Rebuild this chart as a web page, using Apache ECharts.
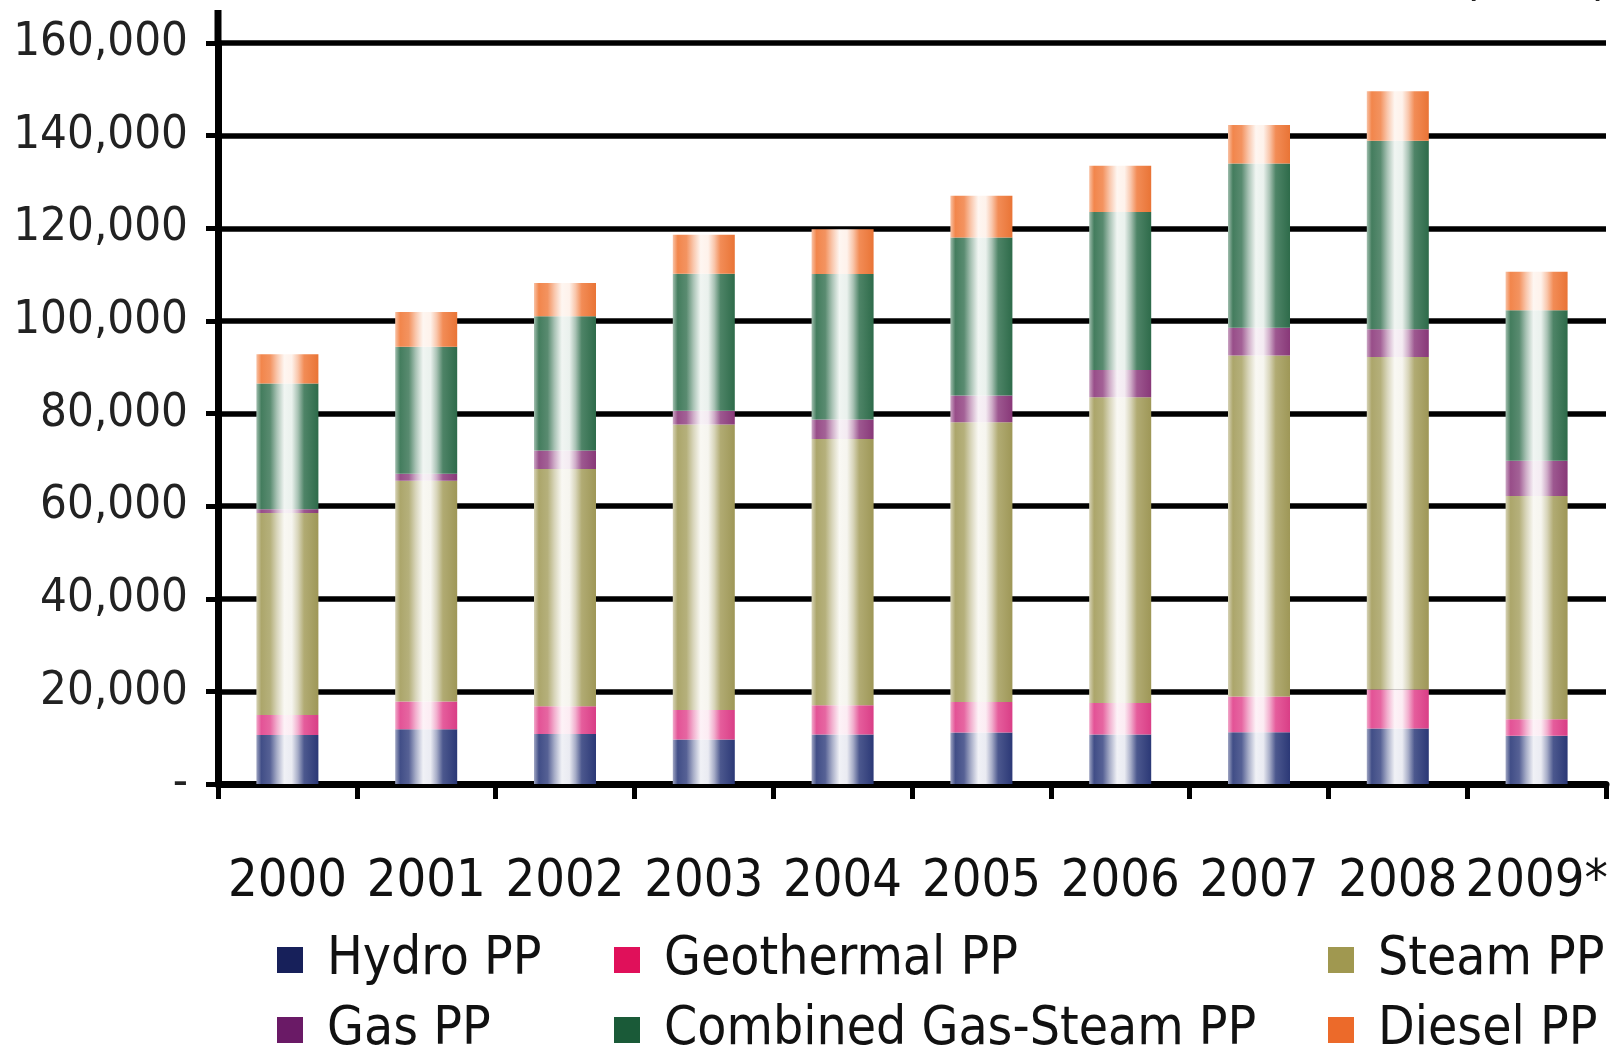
<!DOCTYPE html>
<html>
<head>
<meta charset="utf-8">
<script src="https://cdn.jsdelivr.net/npm/echarts@6/dist/echarts.min.js"></script>
<style>
  html, body { margin: 0; padding: 0; background: #ffffff; }
  #chart { width: 1614px; height: 1051px; }
</style>
</head>
<body>
<div id="chart"></div>
<script>
// Electricity production by power plant type, GWh
const years = ['2000', '2001', '2002', '2003', '2004', '2005', '2006', '2007', '2008', '2009*'];

const hydroPP      = [10600, 11800, 10800,  9600, 10700, 11100, 10700, 11200, 12000, 10400];
const geothermalPP = [ 4300,  6000,  6000,  6400,  6300,  6600,  6800,  7700,  8400,  3600];
const steamPP      = [43600, 47700, 51200, 61600, 57500, 60400, 66000, 73600, 71800, 48200];
const gasPP        = [  800,  1500,  4000,  3000,  4200,  5800,  5900,  6000,  6000,  7600];
const combinedPP   = [27200, 27400, 29000, 29600, 31400, 34100, 34100, 35500, 40700, 32500];
const dieselPP     = [ 6300,  7500,  7200,  8400,  9700,  9000, 10000,  8300, 10700,  8300];

const seriesNames = ['Hydro PP', 'Geothermal PP', 'Steam PP', 'Gas PP', 'Combined Gas-Steam PP', 'Diesel PP'];
const seriesData  = [hydroPP, geothermalPP, steamPP, gasPP, combinedPP, dieselPP];

const yMin = 0;
const yMax = 160000;
const yStep = 20000;
const unitLabel = '(GWh)';

// bar body colours and legend swatch colours
const barColors    = ['#2c3a7a', '#e0408a', '#a39c5a', '#8c3a7c', '#2f6e4c', '#f07838'];
const swatchColors = ['#17205a', '#e0105a', '#a09850', '#6a1a66', '#1a5a38', '#ec6a2a'];

const FONT = '"DejaVu Sans Condensed", "Liberation Sans Narrow", "DejaVu Sans", sans-serif';

function hexToRgb(h) {
  const n = parseInt(h.slice(1), 16);
  return [(n >> 16) & 255, (n >> 8) & 255, n & 255];
}
function mix(h, t) {
  // t > 0 mixes toward white, t < 0 toward black
  const c = hexToRgb(h).map(v => t >= 0 ? Math.round(v + (255 - v) * t) : Math.round(v * (1 + t)));
  return 'rgb(' + c.join(',') + ')';
}
// cylinder-like shading across the bar
function cylinder(base) {
  return new echarts.graphic.LinearGradient(0, 0, 1, 0, [
    { offset: 0.00, color: mix(base, 0.55) },
    { offset: 0.08, color: mix(base, 0.10) },
    { offset: 0.22, color: mix(base, 0.20) },
    { offset: 0.33, color: mix(base, 0.58) },
    { offset: 0.45, color: mix(base, 0.93) },
    { offset: 0.57, color: mix(base, 0.90) },
    { offset: 0.67, color: mix(base, 0.58) },
    { offset: 0.77, color: mix(base, 0.15) },
    { offset: 1.00, color: mix(base, -0.03) }
  ]);
}

const gridLeft = 218, gridTop = 43, gridRight = 8, gridBottom = 267;

const chart = echarts.init(document.getElementById('chart'), null, { renderer: 'canvas' });

// one legend entry per block so the two rows and three columns stay fixed
const legendCols = [272, 609, 1323];
const legendRows = [925, 995];
const legendSlots = [[0, 0], [1, 0], [2, 0], [0, 1], [1, 1], [2, 1]]; // [col, row] for each series

function legendEntry(i) {
  const [c, r] = legendSlots[i];
  return {
    left: legendCols[c],
    top: legendRows[r],
    itemWidth: 26,
    itemHeight: 26,
    icon: 'rect',
    selectedMode: false,
    textStyle: { fontFamily: FONT, fontSize: 53, color: '#111', lineHeight: 60, padding: [0, 0, 0, 19] },
    data: [{ name: seriesNames[i], itemStyle: { color: swatchColors[i] } }]
  };
}

chart.setOption({
  animation: false,
  backgroundColor: '#ffffff',
  grid: { left: gridLeft, right: gridRight, top: gridTop, bottom: gridBottom, containLabel: false },
  legend: seriesNames.map((n, i) => legendEntry(i)),
  xAxis: {
    type: 'category',
    data: years,
    boundaryGap: true,
    axisLine: { show: true, lineStyle: { color: '#000', width: 7 } },
    axisTick: { show: true, length: 15, lineStyle: { color: '#000', width: 5 } },
    axisLabel: { fontFamily: FONT, fontSize: 52, color: '#111', margin: 72, interval: 0 },
    splitLine: { show: false }
  },
  yAxis: {
    type: 'value',
    min: yMin,
    max: yMax,
    interval: yStep,
    axisLine: { show: true, lineStyle: { color: '#000', width: 7 } },
    axisTick: { show: true, length: 12, lineStyle: { color: '#000', width: 5 } },
    axisLabel: {
      fontFamily: FONT, fontSize: 47, color: '#222', margin: 30,
      formatter: v => v === 0 ? '-' : v.toLocaleString('en-US')
    },
    splitLine: { show: true, lineStyle: { color: '#000', width: 5.5 } }
  },
  graphic: [
    {
      type: 'line',
      shape: { x1: gridLeft, y1: gridTop, x2: gridLeft, y2: 10 },
      style: { stroke: '#000', lineWidth: 7 },
      z: 10
    },
    {
      type: 'text',
      right: 4,
      top: -46,
      style: { text: unitLabel, font: '52px ' + FONT, fill: '#222' }
    }
  ],
  series: seriesData.map((d, i) => ({
    name: seriesNames[i],
    type: 'bar',
    stack: 'total',
    barWidth: 62,
    data: d,
    itemStyle: { color: cylinder(barColors[i]) },
    emphasis: { disabled: true }
  }))
});
</script>
</body>
</html>
